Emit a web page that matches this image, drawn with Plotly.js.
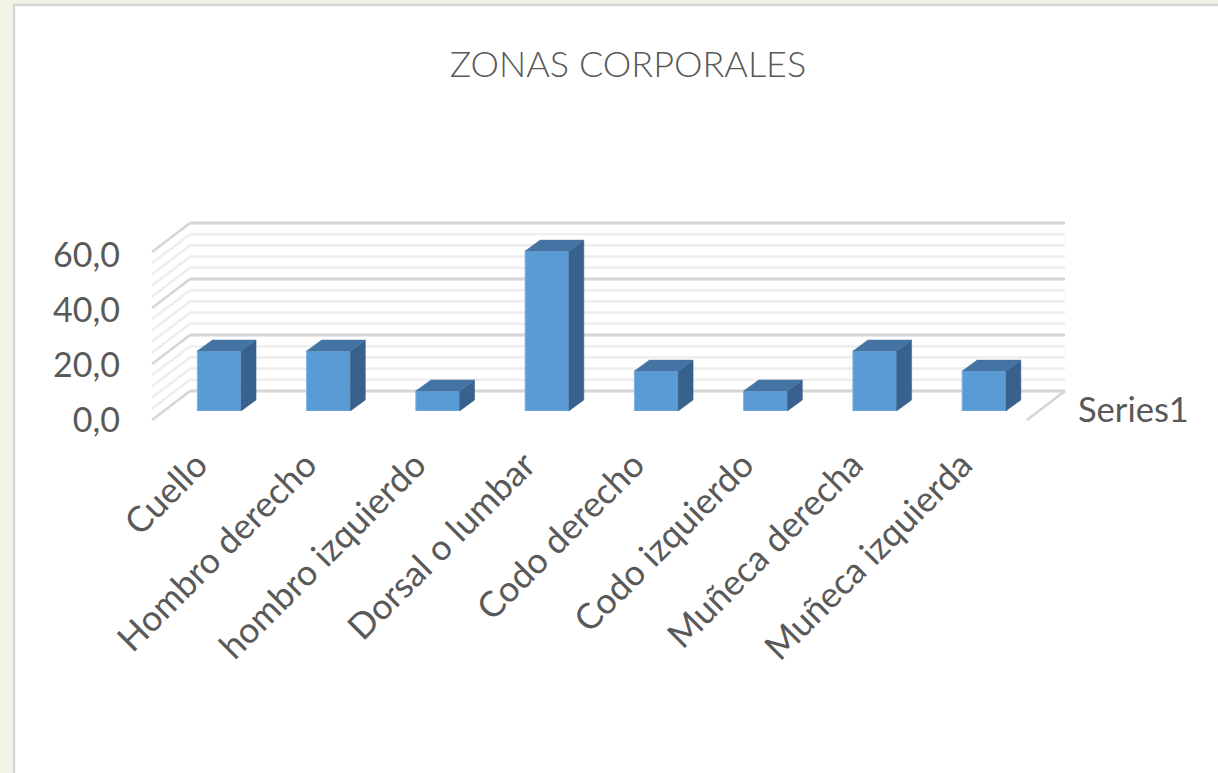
<!DOCTYPE html>
<html>
<head>
<meta charset="utf-8">
<script src="https://cdn.plot.ly/plotly-3.0.1.min.js"></script>
<style>html,body{margin:0;padding:0;background:#f1f3e4;}#chart{width:1218px;height:773px;}</style>
</head>
<body>
<div id="chart"></div>
<script>
// ---- data ----
const categories = ['Cuello', 'Hombro derecho', 'hombro izquierdo', 'Dorsal o lumbar', 'Codo derecho', 'Codo izquierdo', 'Muñeca derecha', 'Muñeca izquierda'];
const values = [20.0, 20.0, 6.7, 53.3, 13.3, 6.7, 20.0, 13.3];
const seriesName = 'Series1';
const chartTitle = 'ZONAS CORPORALES';
const yTickVals = [0, 20, 40, 60];
const yMinorVals = [4, 8, 12, 16, 24, 28, 32, 36, 44, 48, 52, 56];

// ---- layout helpers (pixel geometry of the picture) ----
const W = 1218, H = 773;
const fx = px => px / W;
const fy = py => 1 - py / H;

// back wall
const wallL = 190, wallR = 1065, wall0 = 391, wall60 = 223;
const slantDX = -38, slantDY = -29; // toward the front (pixels, y up)
const wallDomX = [140, 1080], wallDomY = [430, 212];
const wxs = (wallR - wallL);             // px per unit x
const wys = (wall0 - wall60) / 60;       // px per unit y
const wallXRange = [(wallDomX[0] - wallL) / wxs, (wallDomX[1] - wallL) / wxs];
const wallYRange = [(wall0 - wallDomY[0]) / wys, (wall0 - wallDomY[1]) / wys];

// bars
const barC0 = 219.2, barStep = 109.26, barBase = 411, barPxPerUnit = 3.0;
const barDomX = [barC0 - barStep / 2, barC0 + barStep * (categories.length - 0.5)];
const barYMax = 60;
const barDomY = [barBase, barBase - barYMax * barPxPerUnit];
const barW = 0.4;
const depthX = 15 / barStep, depthY = 11 / barPxPerUnit;

const idx = categories.map((c, i) => i);

// faces of the boxes built from values
const sideX = [], sideY = [], topX = [], topY = [];
idx.forEach(i => {
  const v = values[i];
  const r = i + barW / 2, l = i - barW / 2;
  sideX.push(r, r + depthX, r + depthX, r, r, null);
  sideY.push(0, depthY, v + depthY, v, 0, null);
  topX.push(l, r, r + depthX, l + depthX, l, null);
  topY.push(v, v, v + depthY, v + depthY, v, null);
});

const txtColor = '#595959';
const fontFam = 'Lato, "Open Sans", sans-serif';

const traces = [
  {type: 'scatter', x: [null], y: [null], xaxis: 'x', yaxis: 'y', showlegend: false, hoverinfo: 'skip'},
  {type: 'scatter', x: [null], y: [null], xaxis: 'x3', yaxis: 'y3', showlegend: false, hoverinfo: 'skip'},
  {type: 'scatter', mode: 'lines', x: sideX, y: sideY, xaxis: 'x2', yaxis: 'y2', fill: 'toself',
   fillcolor: '#38618d', line: {color: '#38618d', width: 0.5}, showlegend: false, hoverinfo: 'skip'},
  {type: 'scatter', mode: 'lines', x: topX, y: topY, xaxis: 'x2', yaxis: 'y2', fill: 'toself',
   fillcolor: '#4474a3', line: {color: '#4474a3', width: 0.5}, showlegend: false, hoverinfo: 'skip'},
  {type: 'bar', x: idx, y: values, width: barW, xaxis: 'x2', yaxis: 'y2', name: seriesName,
   marker: {color: '#5b9bd5', line: {color: '#7fb2e0', width: 1}}, showlegend: false}
];

const shapes = [
  {type: 'rect', xref: 'paper', yref: 'paper', x0: fx(14), x1: 1.02, y0: -0.02, y1: fy(5),
   fillcolor: '#ffffff', line: {color: '#d6d6d6', width: 2.5}, layer: 'below'}
];
const gridVals = yTickVals.concat(yMinorVals);
gridVals.forEach(v => {
  const major = yTickVals.includes(v);
  const col = major ? '#d6d6d6' : '#eeeeee';
  const w = major ? 2.8 : 2.6;
  shapes.push({type: 'line', xref: 'x', yref: 'y', x0: 0, x1: 1, y0: v, y1: v,
    line: {color: col, width: w}, layer: 'below'});
  shapes.push({type: 'line', xref: 'x', yref: 'y', xsizemode: 'pixel', xanchor: 0, x0: 0, x1: slantDX,
    ysizemode: 'pixel', yanchor: v, y0: 0, y1: slantDY, line: {color: col, width: w}, layer: 'below'});
});
shapes.push({type: 'line', xref: 'x', yref: 'y', xsizemode: 'pixel', xanchor: 1, x0: 0, x1: slantDX,
  ysizemode: 'pixel', yanchor: 0, y0: 0, y1: slantDY, line: {color: '#d6d6d6', width: 2.8}, layer: 'below'});

const layout = {
  width: W, height: H,
  margin: {l: 0, r: 0, t: 0, b: 0, pad: 0},
  paper_bgcolor: '#f1f3e4',
  plot_bgcolor: 'rgba(0,0,0,0)',
  separators: ',.',
  showlegend: false,
  font: {family: fontFam, color: txtColor},
  title: {text: chartTitle, x: fx(628), xanchor: 'center', y: fy(64), yanchor: 'middle', yref: 'paper',
    font: {family: fontFam, size: 36, weight: 300, color: txtColor}},
  xaxis: {domain: [fx(wallDomX[0]), fx(wallDomX[1])], range: wallXRange, visible: false, fixedrange: true},
  yaxis: {domain: [fy(wallDomY[0]), fy(wallDomY[1])], range: wallYRange, visible: false, fixedrange: true},
  xaxis2: {domain: [fx(barDomX[0]), fx(barDomX[1])], range: [-0.5, categories.length - 0.5],
    anchor: 'free', position: fy(436), tickmode: 'array', tickvals: idx, ticktext: categories,
    tickangle: -45, ticks: '', showgrid: false, zeroline: false, showline: false, ticklabelshift: -22,
    tickfont: {family: fontFam, size: 35.5, color: txtColor}, fixedrange: true},
  yaxis2: {domain: [fy(barDomY[0]), fy(barDomY[1])], range: [0, barYMax], visible: false, fixedrange: true},
  xaxis3: {domain: [fx(121), fx(150)], range: [0, 1], visible: false, fixedrange: true},
  yaxis3: {domain: [fy(420), fy(255)], range: [0, 60], anchor: 'x3', tickmode: 'array', tickvals: yTickVals,
    tickformat: '.1f', ticks: '', showgrid: false, zeroline: false, showline: false,
    tickfont: {family: fontFam, size: 34, color: txtColor}, fixedrange: true},
  shapes: shapes,
  annotations: [
    {text: seriesName, xref: 'paper', yref: 'paper', x: fx(1076), y: fy(408), xanchor: 'left', yanchor: 'middle',
     showarrow: false, font: {family: fontFam, size: 34.5, color: txtColor}}
  ]
};

Plotly.newPlot('chart', traces, layout, {displayModeBar: false, staticPlot: true});
</script>
</body>
</html>
